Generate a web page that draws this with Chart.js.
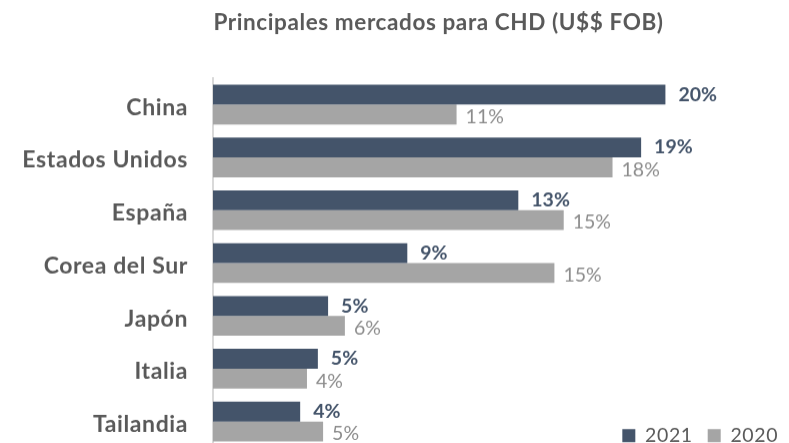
<!DOCTYPE html>
<html><head><meta charset="utf-8">
<script src="https://cdn.jsdelivr.net/npm/chart.js@4/dist/chart.umd.min.js"></script>
<style>
html,body{margin:0;padding:0;overflow:hidden;background:#fff;}
#wrap{position:relative;width:789px;height:480px;}
</style></head><body>
<div id="wrap"><canvas id="c"></canvas></div>
<script>
const categories = ['China', 'Estados Unidos', 'España', 'Corea del Sur', 'Japón', 'Italia', 'Tailandia'];
const seriesNames = ['2021', '2020'];
const values2021 = [19.93, 18.86, 13.45, 8.56, 5.07, 4.62, 3.84];
const values2020 = [10.73, 17.6, 15.45, 15.04, 5.81, 4.14, 4.85];
const titleText = 'Principales mercados para CHD (U$$ FOB)';

const COL_DARK = '#44546A';
const COL_GRAY = '#A5A5A5';
const TEXT = '#595959';

const labelStyles = [
  { font: 'bold 19.5px Lato', color: COL_DARK, dx: 13, dy: 0 },
  { font: '19.5px Lato', color: '#8C8C8C', dx: 9, dy: 2.5 }
];

const SPACING = '0.6px';
const textSpacing = {
  id: 'textSpacing',
  beforeUpdate(chart) { chart.ctx.letterSpacing = SPACING; },
  beforeLayout(chart) { chart.ctx.letterSpacing = SPACING; },
  beforeDraw(chart) { chart.ctx.letterSpacing = SPACING; }
};

const valueLabels = {
  id: 'valueLabels',
  afterDatasetsDraw(chart) {
    const ctx = chart.ctx;
    chart.data.datasets.forEach((ds, i) => {
      const meta = chart.getDatasetMeta(i);
      const st = labelStyles[i];
      ctx.save();
      ctx.letterSpacing = '0px';
      ctx.font = st.font;
      ctx.fillStyle = st.color;
      ctx.textAlign = 'left';
      ctx.textBaseline = 'middle';
      meta.data.forEach((el, j) => {
        ctx.fillText(Math.round(ds.data[j]) + '%', el.x + st.dx, el.y + st.dy);
      });
      ctx.restore();
    });
  }
};

const placeBoxes = {
  id: 'placeBoxes',
  afterLayout(chart) {
    const L = chart.legend;
    if (L) {
      const dy = 410 - L.top; L.top += dy; L.bottom += dy;
      const dx = (777.5 + 15 + 0.6) - L.right; L.left += dx; L.right += dx;
    }
    const T = chart.titleBlock;
    if (T) {
      const w = T.right - T.left; T.left = 438.5 - w / 2; T.right = 438.5 + w / 2;
    }
  }
};

const chart = new Chart(document.getElementById('c'), {
  type: 'bar',
  data: {
    labels: categories,
    datasets: [
      { label: seriesNames[0], data: values2021, backgroundColor: COL_DARK, borderWidth: 0 },
      { label: seriesNames[1], data: values2020, backgroundColor: COL_GRAY, borderWidth: 0 }
    ]
  },
  options: {
    indexAxis: 'y',
    responsive: true,
    maintainAspectRatio: false,
    animation: false,
    layout: { padding: { left: 0, right: 8.5, top: 0, bottom: 0 } },
    datasets: { bar: { categoryPercentage: 0.752, barPercentage: 1.0 } },
    scales: {
      x: { display: false, min: 0, max: 25 },
      y: {
        grid: { display: false, drawTicks: false },
        border: { display: true, color: '#D9D9D9', width: 2 },
        ticks: { color: TEXT, font: { family: 'Lato', size: 23, weight: 'bold' }, padding: 25, labelOffset: 3 },
        afterFit(scale) { scale.width = 213; }
      }
    },
    plugins: {
      title: {
        display: true, text: titleText, color: TEXT,
        font: { family: 'Lato', size: 22.5, weight: 'bold' },
        padding: { top: 9.6, bottom: 41.4 }
      },
      legend: {
        position: 'bottom', align: 'end',
        labels: { boxWidth: 13, boxHeight: 13, padding: 15, color: TEXT, font: { family: 'Lato', size: 19.5 } }
      },
      tooltip: { enabled: false }
    }
  },
  plugins: [textSpacing, placeBoxes, valueLabels]
});

const wrap = document.getElementById('wrap');
const d = 447 - chart.chartArea.bottom;
if (Math.abs(d) > 0.1) {
  wrap.style.height = (480 + d) + 'px';
  chart.resize();
}
</script>
</body></html>
